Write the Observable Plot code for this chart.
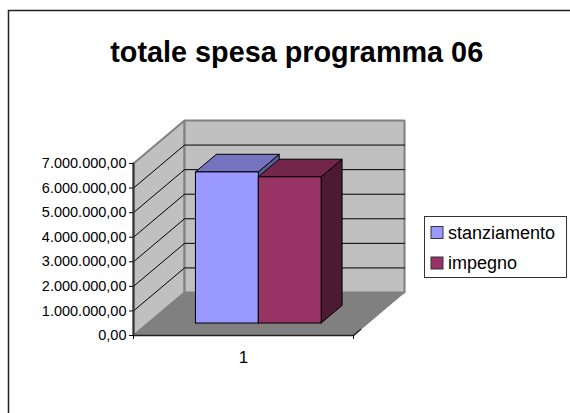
<!DOCTYPE html>
<html><head><meta charset="utf-8">
<script src="https://cdn.jsdelivr.net/npm/d3@7"></script>
<script src="https://cdn.jsdelivr.net/npm/@observablehq/plot@0.6"></script>
<style>html,body{margin:0;padding:0;background:#fff}svg{display:block}</style>
</head><body><div id="c"></div>
<script>
const title = "totale spesa programma 06";
const categories = ["1"];
const seriesNames = ["stanziamento", "impegno"];
const seriesValues = [6150000, 5950000];
const seriesColors = ["#9999ff", "#993366"];
const seriesTops = ["#7373c0", "#732649"];
const seriesSides = ["#5c5c99", "#4d1a33"];
const yTicks = [0, 1e6, 2e6, 3e6, 4e6, 5e6, 6e6, 7e6];
const yMax = 7000000;
const depthX = 0.232, depthY = 1750000;   // how far the floor recedes, in scale units
const gapRatio = 1.5;

const it = d3.formatLocale({decimal: ",", thousands: ".", grouping: [3], currency: ["", "€"]}).format(",.2f");
const P = (x, v, d) => ({x: x + d * depthX, y: v + d * depthY});
const poly = (pts, fill, stroke, sw) => ({pts: [...pts, pts[0]], fill, stroke, sw});
const box = [];
const barW = 1 / (seriesValues.length + gapRatio);
const d0 = 0.29, d1 = 0.7;
seriesValues.forEach((v, i) => {
  const a = barW * (gapRatio / 2 + i), b = a + barW;
  box.push(poly([P(b,0,d0),P(b,0,d1),P(b,v,d1),P(b,v,d0)], seriesSides[i], "#000", 1));
  box.push(poly([P(a,v,d0),P(b,v,d0),P(b,v,d1),P(a,v,d1)], seriesTops[i], "#000", 1));
  box.push(poly([P(a,0,d0),P(b,0,d0),P(b,v,d0),P(a,v,d0)], seriesColors[i], "#000", 1));
});
const walls = [
  poly([P(0,0,0),P(0,0,1),P(0,yMax,1),P(0,yMax,0)], "#c0c0c0", "#808080", 2),
  poly([P(0,0,1),P(1,0,1),P(1,yMax,1),P(0,yMax,1)], "#c0c0c0", "#808080", 2),
  poly([P(0,0,0),P(1,0,0),P(1,0,1),P(0,0,1)], "#808080", "#808080", 1)
];
const polyMark = (polys) => polys.map(p => Plot.line(p.pts, {x: "x", y: "y", fill: p.fill, stroke: p.stroke, strokeWidth: p.sw, strokeLinejoin: "miter"}));
const grid = yTicks.slice(1, -1).map(v =>
  Plot.line([P(0,v,0),P(0,v,1),P(1,v,1)], {x: "x", y: "y", stroke: "#000", strokeWidth: 1})
);

const W = 570, H = 413;
const chart = Plot.plot({
  width: W, height: H,
  marginLeft: 133, marginRight: 217, marginTop: 163, marginBottom: 78,
  style: {background: "#fff", fontFamily: "'Liberation Sans', Arial, sans-serif", color: "#000", overflow: "visible"},
  x: {domain: [0, 1]},
  y: {domain: [0, yMax]},
  marks: [
    ...polyMark(walls),
    ...grid,
    Plot.line([P(0,0,0),P(0,yMax,0)], {x:"x", y:"y", stroke:"#333", strokeWidth:2}),
    Plot.line([P(0,0,0),P(1,0,0),P(1,0,0.14)], {x:"x", y:"y", stroke:"#222", strokeWidth:1.5}),
    ...polyMark(box),
    Plot.axisY({ticks: yTicks, tickFormat: it, tickSize: 4, tickPadding: 3, fontSize: 14.5, label: null}),
    Plot.axisX({ticks: [0, 1], tickFormat: () => "", tickSize: 4, label: null}),
    Plot.axisX({ticks: [0.5], tickFormat: () => categories[0], tickSize: 0, tickPadding: 15, fontSize: 17, label: null})
  ]
});
const svg = d3.select(chart);
// frame: top and left edges only, as in the reference
svg.append("path").attr("d", `M8.5 ${H}V10.5H${W}`).attr("fill","none").attr("stroke","#222").attr("stroke-width",1.5);
svg.append("text").text(title).attr("x", 296.7).attr("y", 62).attr("text-anchor","middle")
  .attr("font-size", 28.8).attr("font-weight","bold").attr("fill","#000");
// legend
const lg = svg.append("g");
lg.append("rect").attr("x",424.5).attr("y",216.5).attr("width",142).attr("height",61).attr("fill","#fff").attr("stroke","#333");
seriesNames.forEach((n,i) => {
  const y = 232.5 + i*30.5;
  lg.append("rect").attr("x",431).attr("y",y-6).attr("width",12).attr("height",12).attr("fill",seriesColors[i]).attr("stroke","#333");
  lg.append("text").text(n).attr("x",448).attr("y",y+6).attr("text-anchor","start").attr("font-size",18).attr("fill","#000");
});
document.getElementById("c").appendChild(chart);
</script></body></html>
